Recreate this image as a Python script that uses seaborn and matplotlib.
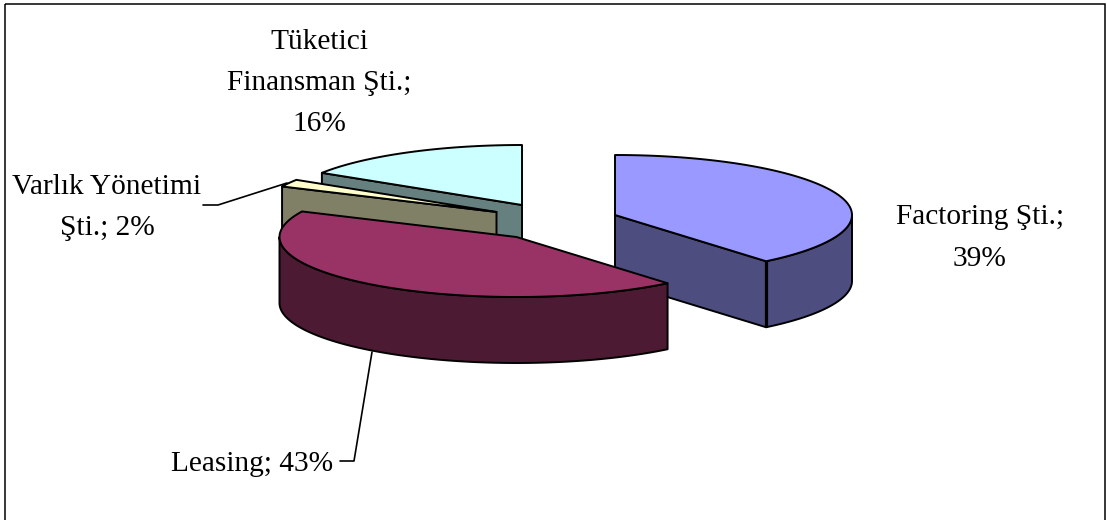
import numpy as np
import matplotlib
matplotlib.use("Agg")
import matplotlib.pyplot as plt
from matplotlib.colors import to_rgb
from matplotlib.patches import Polygon, Rectangle
import seaborn as sns

# Sector shares, in chart order (clockwise from 12 o'clock)
labels = ["Factoring Şti.", "Leasing", "Varlık Yönetimi\nŞti.", "Tüketici\nFinansman Şti."]
shares = [39, 43, 2, 16]

# Slice colours, top surfaces
top_colors = ["#9999FF", "#993366", "#FFFFCC", "#CCFFFF"]

# Layout in pixels: each exploded slice's apex, the ellipse radii and the wall height
apex_x = [615, 516.5, 496.5, 522]
apex_y = [215, 237, 212, 205]
RX, RY, DEPTH = 237, 60, 66
draw_order = [3, 2, 0, 1]

sns.set_theme(style="white")
plt.rcParams["font.family"] = ["Liberation Serif", "DejaVu Serif"]

fig = plt.figure(figsize=(11.07, 5.2), dpi=100, facecolor="white")
ax = fig.add_axes([0, 0, 1, 1])
ax.set_xlim(0, 1107)
ax.set_ylim(520, 0)
ax.axis("off")

ax.add_patch(Rectangle((5, 3.5), 1100, 530, fill=False, ec="black", lw=1.1))

LW = 1.4
edges = np.cumsum([0] + shares) / sum(shares) * 360.0
side_colors = [tuple(0.5 * c for c in to_rgb(col)) for col in top_colors]


def rim(cx, cy, t1, t2, n=120):
    t = np.radians(np.linspace(t1, t2, n))
    return np.column_stack([cx + RX * np.sin(t), cy - RY * np.cos(t)])


def wall(points, color):
    lowered = points[::-1] + [0, DEPTH]
    ax.add_patch(Polygon(np.vstack([points, lowered]), closed=True, fc=color,
                         ec="black", lw=LW, joinstyle="round"))


for i in draw_order:
    cx, cy = apex_x[i], apex_y[i]
    t1, t2 = edges[i], edges[i + 1]
    apex = np.array([[cx, cy]])

    # Cut faces that turn towards the viewer
    if np.sin(np.radians(t1)) < -1e-6:
        wall(np.vstack([apex, rim(cx, cy, t1, t1, 1)]), side_colors[i])
    if np.sin(np.radians(t2)) > 1e-6:
        wall(np.vstack([apex, rim(cx, cy, t2, t2, 1)]), side_colors[i])

    # Outer wall, only along the front half of the ellipse
    lo, hi = max(t1, 90), min(t2, 270)
    if lo < hi:
        wall(rim(cx, cy, lo, hi), side_colors[i])

    # Heavier corner where the cut face meets the outer wall of the first slice
    if i == 0:
        corner = rim(cx, cy, t2, t2, 1)[0]
        ax.plot([corner[0]] * 2, [corner[1], corner[1] + DEPTH], color="black", lw=2.3,
                solid_capstyle="butt")

    ax.add_patch(Polygon(np.vstack([apex, rim(cx, cy, t1, t2)]), closed=True,
                         fc=top_colors[i], ec="black", lw=LW, joinstyle="round"))

# Leader lines
ax.plot([340, 354, 372], [461, 461, 352], color="black", lw=1.2)
ax.plot([203, 218, 287], [205, 205, 183], color="black", lw=1.2)

# Category labels
FS = 21.2
SP = 1.76
text_kw = dict(fontsize=FS, color="black", ha="center", va="center", linespacing=SP,
               multialignment="center")
ax.text(980, 238, f"{labels[0]};\n{shares[0]}%", **text_kw)
ax.text(252, 464, f"{labels[1]}; {shares[1]}%", **text_kw)
ax.text(107, 207.5, f"{labels[2]}; {shares[2]}%", **text_kw)
ax.text(319, 83, f"{labels[3]};\n{shares[3]}%", **text_kw)

fig.savefig("out.png", dpi=100, facecolor="white")
